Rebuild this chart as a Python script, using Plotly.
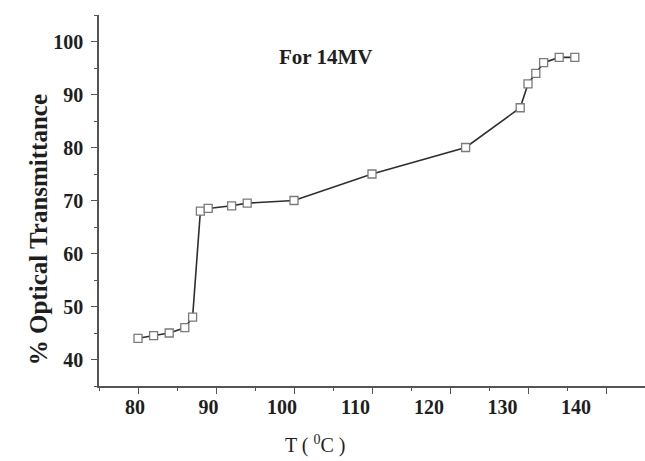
import plotly.graph_objects as go

# Temperature (deg C) and optical transmittance (%) for the 14MV sample
temperature = [80, 82, 84, 86, 87, 88, 89, 92, 94, 100, 110, 122, 129, 130, 131, 132, 134, 136]
transmittance = [44, 44.5, 45, 46, 48, 68, 68.5, 69, 69.5, 70, 75, 80, 87.5, 92, 94, 96, 97, 97]

x_ticks = [80, 90, 100, 110, 120, 130, 140]
y_ticks = [40, 50, 60, 70, 80, 90, 100]

serif = "Liberation Serif"
axis_color = "#555555"
text_color = "#1e1e1e"

fig = go.Figure()

fig.add_trace(go.Scatter(
    x=temperature, y=transmittance,
    mode="lines+markers",
    line=dict(color="#2e2e2e", width=1.6),
    marker=dict(symbol="square", size=8, color="white",
                line=dict(color="#7a7a7a", width=1.3)),
    showlegend=False,
))

# helper trace carrying the label axis
fig.add_trace(go.Scatter(
    x=temperature, y=transmittance, xaxis="x2",
    mode="lines", line=dict(width=0), opacity=0,
    hoverinfo="skip", showlegend=False,
))

fig.update_layout(
    width=645, height=461,
    margin=dict(l=99, r=0, t=15, b=75),
    paper_bgcolor="white", plot_bgcolor="white",
    xaxis=dict(
        range=[75, 145], showgrid=False, zeroline=False,
        showline=True, linecolor=axis_color, linewidth=1.5,
        ticks="outside", tickvals=x_ticks, ticklen=6, tickwidth=1.3,
        tickcolor=axis_color, showticklabels=False,
        minor=dict(dtick=5, tick0=75, ticks="outside", ticklen=3,
                   tickwidth=1.2, tickcolor=axis_color),
    ),
    xaxis2=dict(
        overlaying="x", anchor="y", side="bottom",
        range=[75.1, 149.4], showgrid=False, zeroline=False,
        showline=False, ticks="", tickvals=x_ticks,
        ticktext=[str(v) for v in x_ticks],
        tickfont=dict(family=serif, size=20, color=text_color, weight="bold"),
        ticklabelstandoff=7,
    ),
    yaxis=dict(
        range=[35, 105], showgrid=False, zeroline=False,
        showline=True, linecolor=axis_color, linewidth=1.5,
        ticks="outside", tickvals=y_ticks, ticklen=6, tickwidth=1.3,
        tickcolor=axis_color,
        tickfont=dict(family=serif, size=20, color=text_color, weight="bold"),
        ticklabelstandoff=4,
        minor=dict(dtick=5, tick0=35, ticks="outside", ticklen=3,
                   tickwidth=1.2, tickcolor=axis_color),
    ),
    annotations=[
        dict(text="<b>For 14MV</b>", x=0.416, y=0.924, xref="paper", yref="paper",
             showarrow=False, font=dict(family=serif, size=21, color=text_color)),
        dict(text="<b>% Optical Transmittance</b>", x=-0.14, y=0.42, xref="paper", yref="paper",
             textangle=-90, showarrow=False,
             font=dict(family=serif, size=25, color=text_color)),
        dict(text="T ( <sup>0</sup>C )", x=0.396, y=-0.197, xref="paper", yref="paper",
             showarrow=False, font=dict(family=serif, size=20, color=text_color)),
    ],
)

fig.write_html("out.html")
